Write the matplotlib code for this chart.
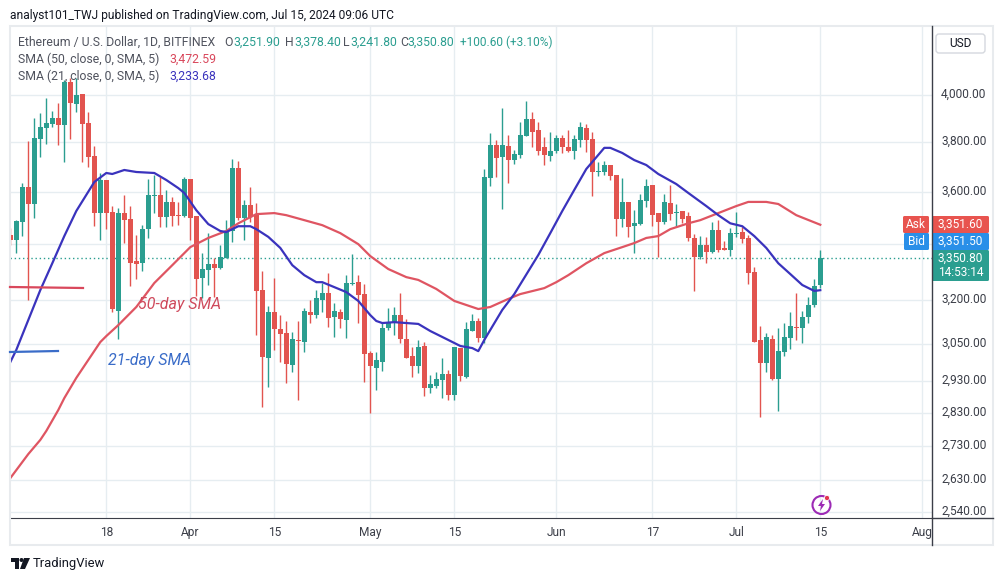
import matplotlib
matplotlib.use("Agg")
import matplotlib.pyplot as plt
from matplotlib.lines import Line2D
from matplotlib.patches import Circle, FancyBboxPatch, Polygon, Rectangle
from matplotlib.transforms import Affine2D, ScaledTranslation

# daily candles, 2 Mar to 15 Jul 2024, index 0 = 2 Mar
opens = [3434, 3416, 3482, 3618, 3552, 3813, 3859, 3875, 3901, 3871,
         4057, 3961, 4004, 3880, 3743, 3517, 3646, 3521, 3161, 3517,
         3494, 3338, 3330, 3456, 3583, 3587, 3501, 3560, 3509, 3505,
         3650, 3505, 3276, 3305, 3327, 3312, 3349, 3449, 3694, 3498,
         3548, 3509, 3234, 3003, 3158, 3100, 3087, 2981, 3063, 3056,
         3158, 3147, 3200, 3224, 3140, 3158, 3130, 3256, 3262, 3220,
         3020, 2971, 2990, 3103, 3120, 3147, 3066, 3010, 2978, 3043,
         2907, 2913, 2932, 2951, 2885, 3036, 2942, 3093, 3127, 3070,
         3654, 3788, 3739, 3784, 3726, 3747, 3825, 3897, 3850, 3780,
         3743, 3763, 3817, 3780, 3763, 3808, 3859, 3813, 3678, 3678,
         3706, 3666, 3494, 3560, 3467, 3475, 3564, 3626, 3517, 3482,
         3556, 3517, 3525, 3505, 3423, 3352, 3397, 3371, 3453, 3386,
         3378, 3438, 3445, 3423, 3298, 3063, 2987, 3066, 2935, 3023,
         3070, 3107, 3103, 3140, 3182, 3251.9]
highs = [3460, 3490, 3634, 3804, 3901, 3922, 3987, 3931, 3965, 4066,
         4075, 4075, 4004, 3927, 3784, 3674, 3646, 3544, 3536, 3587,
         3544, 3434, 3471, 3650, 3666, 3658, 3607, 3579, 3560, 3658,
         3650, 3505, 3367, 3441, 3349, 3397, 3490, 3731, 3722, 3567,
         3618, 3556, 3301, 3178, 3276, 3147, 3127, 3090, 3127, 3171,
         3200, 3234, 3259, 3294, 3189, 3168, 3287, 3363, 3287, 3256,
         3026, 3023, 3120, 3171, 3175, 3224, 3134, 3040, 3063, 3056,
         2948, 2958, 3003, 2964, 3040, 3036, 3123, 3151, 3137, 3690,
         3837, 3808, 3944, 3829, 3767, 3884, 3974, 3927, 3884, 3821,
         3842, 3829, 3829, 3850, 3829, 3884, 3875, 3842, 3718, 3722,
         3706, 3666, 3654, 3560, 3528, 3591, 3650, 3626, 3517, 3591,
         3626, 3552, 3525, 3521, 3438, 3430, 3427, 3482, 3490, 3412,
         3460, 3521, 3464, 3434, 3316, 3110, 3087, 3080, 3103, 3120,
         3158, 3224, 3161, 3210, 3273, 3378.4]
lows = [3397, 3367, 3430, 3200, 3498, 3739, 3792, 3863, 3788, 3718,
        3813, 3927, 3718, 3698, 3467, 3416, 3456, 3158, 3067, 3404,
        3249, 3273, 3301, 3423, 3517, 3464, 3464, 3467, 3471, 3501,
        3416, 3213, 3206, 3252, 3210, 3309, 3349, 3408, 3490, 3416,
        3482, 3080, 2847, 2910, 3030, 2990, 2922, 2958, 2869, 3023,
        3120, 3137, 3158, 3107, 3073, 3103, 3070, 3252, 3120, 2926,
        2829, 2900, 2961, 3096, 3080, 3053, 3003, 2942, 2955, 2882,
        2891, 2907, 2876, 2869, 2869, 2929, 2938, 3093, 3056, 3053,
        3622, 3658, 3532, 3634, 3710, 3735, 3825, 3780, 3747, 3706,
        3722, 3755, 3755, 3759, 3731, 3780, 3759, 3583, 3662, 3666,
        3646, 3430, 3464, 3427, 3367, 3471, 3540, 3467, 3352, 3475,
        3490, 3464, 3478, 3412, 3231, 3345, 3330, 3367, 3371, 3378,
        3356, 3427, 3404, 3256, 3056, 2817, 2958, 2932, 2835, 3010,
        3033, 3063, 3053, 3120, 3175, 3241.8]
closes = [3416, 3486, 3618, 3552, 3817, 3863, 3880, 3901, 3871, 4057,
          3965, 4000, 3875, 3739, 3517, 3646, 3517, 3168, 3517, 3490,
          3330, 3327, 3456, 3587, 3587, 3501, 3560, 3505, 3505, 3650,
          3498, 3273, 3309, 3327, 3312, 3352, 3449, 3694, 3498, 3548,
          3501, 3231, 3007, 3158, 3100, 3083, 2984, 3066, 3060, 3161,
          3147, 3206, 3224, 3137, 3161, 3134, 3259, 3259, 3217, 3016,
          2978, 2997, 3103, 3120, 3147, 3066, 3003, 2978, 3040, 2907,
          2919, 2935, 2951, 2885, 3040, 2945, 3100, 3127, 3070, 3658,
          3788, 3735, 3788, 3726, 3751, 3829, 3897, 3842, 3763, 3747,
          3763, 3817, 3780, 3763, 3813, 3863, 3808, 3678, 3682, 3706,
          3662, 3494, 3560, 3464, 3478, 3567, 3622, 3509, 3482, 3560,
          3513, 3521, 3494, 3423, 3352, 3397, 3371, 3453, 3378, 3378,
          3441, 3441, 3419, 3294, 3056, 2987, 3073, 2935, 3026, 3073,
          3110, 3103, 3140, 3182, 3248, 3350.8]

sma21_days = [0, 1, 5, 7, 9, 11, 14, 16, 17, 19, 21, 24, 26, 28, 29, 31, 33, 35, 36, 38,
              40, 41, 43, 45, 47, 49, 51, 52, 56, 58, 60, 61, 62, 64, 68, 70, 73, 75, 77, 78,
              79, 82, 84, 88, 90, 92, 94, 96, 98, 99, 100, 102, 104, 106, 108, 111, 113, 116,
              118, 120, 122, 124, 126, 128, 130, 132, 134, 135]
sma21 = [2990, 3030, 3234, 3330, 3430, 3525, 3638, 3674, 3670, 3686, 3678, 3674, 3646, 3614,
         3595, 3528, 3475, 3449, 3445, 3467, 3467, 3456, 3427, 3386, 3323, 3287, 3262, 3262,
         3227, 3196, 3147, 3127, 3120, 3123, 3117, 3093, 3063, 3043, 3036, 3026, 3063, 3165,
         3220, 3360, 3441, 3525, 3607, 3690, 3747, 3776, 3776, 3755, 3726, 3706, 3670, 3630,
         3595, 3544, 3509, 3478, 3467, 3430, 3386, 3330, 3291, 3252, 3231, 3233.68]

sma50_days = [0, 3, 5, 6, 8, 9, 11, 13, 15, 16, 18, 21, 24, 27, 30, 33, 36, 38, 41, 44, 46, 49, 52,
              55, 58, 60, 63, 66, 68, 71, 74, 78, 80, 83, 85, 89, 91, 93, 96, 99, 102, 104,
              106, 108, 110, 113, 115, 118, 121, 123, 126, 128, 131, 135]
sma50 = [2635, 2705, 2747, 2774, 2838, 2875, 2939, 2997, 3056, 3076, 3113, 3175, 3259, 3323, 3389,
         3423, 3449, 3478, 3513, 3517, 3509, 3490, 3471, 3441, 3400, 3356, 3309, 3280, 3270, 3238,
         3196, 3168, 3175, 3203, 3220, 3241, 3262, 3287, 3330, 3367, 3389, 3404, 3423, 3430, 3456,
         3478, 3490, 3517, 3544, 3560, 3560, 3552, 3509, 3472.59]

price_ticks = [4000, 3800, 3600, 3400, 3200, 3050, 2930, 2830, 2730, 2630, 2540]
price_labels = ["4,000.00", "3,800.00", "3,600.00", "", "3,200.00", "3,050.00",
                "2,930.00", "2,830.00", "2,730.00", "2,630.00", "2,540.00"]
date_ticks = [16, 30, 44, 60, 74, 91, 107, 121, 135, 152]
date_labels = ["18", "Apr", "15", "May", "15", "Jun", "17", "Jul", "15", "Aug"]

GREEN = "#2b9e90"
RED = "#e2544f"
GREY = "#50535e"
GRID = "#e6edf1"
FONT = "Roboto"

W, H = 1003, 581
fig = plt.figure(figsize=(W / 100, H / 100), dpi=100, facecolor="white")
ax = fig.add_axes([10 / W, 1 - 518 / H, 922 / W, 492 / H])

# y down, in picture pixels, for the furniture around the chart
px = Affine2D().scale(1 / W, -1 / H).translate(0, 1) + fig.transFigure

ax.set_yscale("log")
ax.set_ylim(2523, 4312)
ax.set_xlim(-0.05, 153.62)
ax.minorticks_off()

ax.set_yticks(price_ticks)
ax.set_yticklabels(price_labels, fontsize=8.6, color="#3b3e48", family=FONT)
ax.yaxis.tick_right()
ax.set_xticks(date_ticks)
ax.set_xticklabels(date_labels, fontsize=8.6, color="#3b3e48", family=FONT)
ax.tick_params(length=0, axis="y", pad=6.5)
ax.tick_params(length=0, axis="x", pad=6)
ax.grid(True, color=GRID, lw=1)
ax.set_axisbelow(True)
for s in ["top", "left"]:
    ax.spines[s].set_visible(False)
ax.spines["bottom"].set_color("#3b3e48")
ax.spines["right"].set_visible(False)

# the price labels sit a little above their grid lines
up = ScaledTranslation(0, 2 / 100, fig.dpi_scale_trans)
for lab in ax.get_yticklabels():
    lab.set_transform(lab.get_transform() + up)

for i in range(len(opens)):
    col = GREEN if closes[i] >= opens[i] else RED
    low_body = min(opens[i], closes[i])
    high_body = max(opens[i], closes[i])
    ax.vlines(i, lows[i], highs[i], color=col, lw=1.0, zorder=3)
    ax.bar(i, high_body - low_body, bottom=low_body, width=0.76, color=col, lw=0, zorder=3)

ax.plot(sma50_days, sma50, color="#df5562", lw=1.6, zorder=4)
ax.plot(sma21_days, sma21, color="#3a33bd", lw=1.6, zorder=5)
ax.axhline(closes[-1], color=GREEN, lw=1, ls=(0, (1, 2)), zorder=2)

# panel frame and axis lines
fig.add_artist(Rectangle((10, 26), 983, 519, transform=px, fill=False, ec="#e8ebee", lw=1.5))
fig.add_artist(Line2D([932, 932], [26, 545], transform=px, color="#3b3e48", lw=1))
fig.add_artist(Line2D([932, 993], [518, 518], transform=px, color="#3b3e48", lw=1))

# hand drawn marks on the chart
fig.add_artist(Line2D([10, 83], [287, 288], transform=px, color="#d9485c", lw=1.6))
fig.add_artist(Line2D([10, 58], [352, 351], transform=px, color="#3a6cc8", lw=1.6))
fig.text(138, 304, "50-day SMA", transform=px, color="#cf4a5c", fontsize=11.5, style="italic",
         family=FONT, va="center", zorder=6)
fig.text(108, 360, "21-day SMA", transform=px, color="#3a6cc8", fontsize=11.5, style="italic",
         family=FONT, va="center", zorder=6)

# header and legend
fig.text(10, 15, "analyst101_TWJ published on TradingView.com, Jul 15, 2024 09:06 UTC",
         transform=px, color="#131722", fontsize=8.65, family=FONT, va="center")
fig.text(18, 42, "Ethereum / U.S. Dollar, 1D, BITFINEX", transform=px, color=GREY, fontsize=8.8,
         family=FONT, va="center", zorder=6)
for x, letter, val_x, val in [(224, "O", 233, "3,251.90"), (285, "H", 294, "3,378.40"),
                              (343, "L", 350, "3,241.80"), (400, "C", 407, "3,350.80")]:
    fig.text(x, 42, letter, transform=px, color=GREY, fontsize=8.8, family=FONT, va="center", zorder=6)
    fig.text(val_x, 42, val, transform=px, color=GREEN, fontsize=8.8, family=FONT, va="center", zorder=6)
fig.text(460, 42, "+100.60 (+3.10%)", transform=px, color=GREEN, fontsize=8.6, family=FONT,
         va="center", zorder=6)
fig.text(18, 59, "SMA (50, close, 0, SMA, 5)", transform=px, color=GREY, fontsize=8.8, family=FONT,
         va="center", zorder=6)
fig.text(169, 59, "3,472.59", transform=px, color="#d9485c", fontsize=8.8, family=FONT, va="center", zorder=6)
fig.text(18, 76, "SMA (21, close, 0, SMA, 5)", transform=px, color=GREY, fontsize=8.8, family=FONT,
         va="center", zorder=6)
fig.text(169, 76, "3,233.68", transform=px, color="#3a33bd", fontsize=8.8, family=FONT, va="center", zorder=6)

# USD button
fig.add_artist(FancyBboxPatch((936, 34), 49, 19, boxstyle="round,pad=0,rounding_size=3", transform=px,
                              fc="white", ec="#d5d8de", lw=1))
fig.text(960.5, 43.5, "USD", transform=px, color="#131722", fontsize=8.6, family=FONT,
         ha="center", va="center", zorder=6)

# price tags
tags = [(903, 216, 26, 17, "#e8544f", "Ask"), (904, 233, 25, 17, "#2a8fe8", "Bid"),
        (932, 216, 57, 17, "#e8544f", "3,351.60"), (932, 233, 57, 17, "#2a8fe8", "3,351.50")]
for x, y, w, h, col, label in tags:
    fig.add_artist(FancyBboxPatch((x, y), w, h, boxstyle="round,pad=0,rounding_size=1.5", transform=px,
                                  fc=col, ec="none"))
    fig.text(x + w / 2, y + h / 2, label, transform=px, color="white", fontsize=8.6, family=FONT,
             ha="center", va="center", zorder=6)
fig.add_artist(FancyBboxPatch((932, 250), 57, 31, boxstyle="round,pad=0,rounding_size=1.5", transform=px,
                              fc=GREEN, ec="none"))
fig.text(960.5, 258, "3,350.80", transform=px, color="white", fontsize=8.6, family=FONT,
         ha="center", va="center", zorder=6)
fig.text(960.5, 272, "14:53:14", transform=px, color="white", fontsize=8.6, family=FONT,
         ha="center", va="center", zorder=6)

# flash icon
fig.add_artist(Circle((821.5, 505), 9, transform=px, fill=False, ec="#9c2ab5", lw=1.5))
fig.add_artist(Polygon([(823, 499), (818, 506), (821, 506), (820, 511), (825, 504), (822, 504)],
                       transform=px, fc="#9c2ab5", ec="none"))
fig.add_artist(Circle((827, 498), 2.6, transform=px, fc="#e2344f", ec="white", lw=0.6))

# TradingView logo
fig.add_artist(Polygon([(11, 558), (19, 558), (19, 569), (15, 569), (15, 562), (11, 562)],
                       transform=px, fc="#131722", ec="none"))
fig.add_artist(Circle((21.5, 560), 2, transform=px, fc="#131722", ec="none"))
fig.add_artist(Polygon([(24, 558), (30, 558), (25, 569), (20, 569)], transform=px, fc="#131722", ec="none"))
fig.text(33, 563, "TradingView", transform=px, color="#131722", fontsize=9.4, family=FONT, va="center")

fig.savefig("out.png", dpi=100, facecolor="white")
